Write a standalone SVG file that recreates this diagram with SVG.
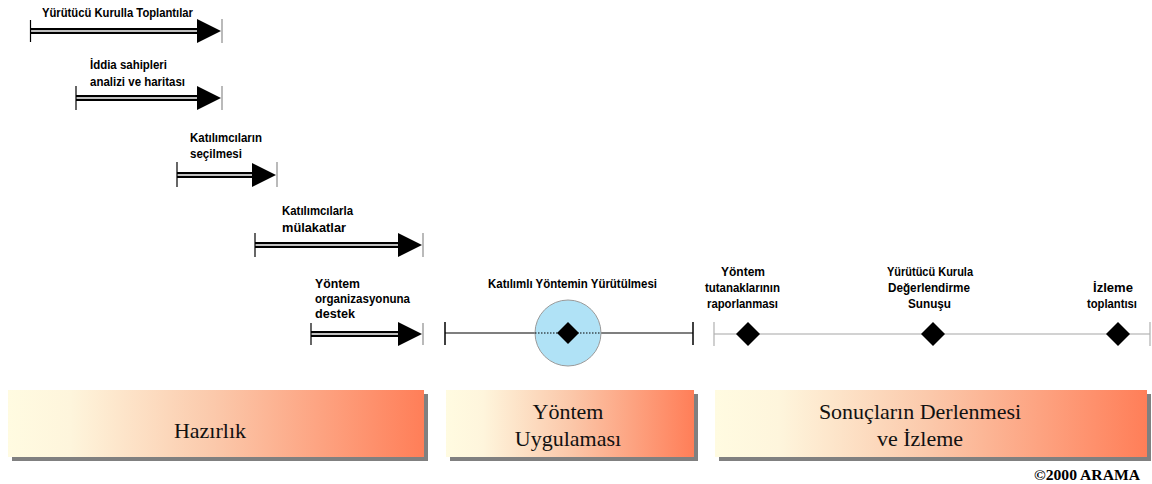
<svg xmlns="http://www.w3.org/2000/svg" width="1152" height="484" viewBox="0 0 1152 484">
<defs>
<linearGradient id="g" x1="0" y1="0" x2="1" y2="0">
<stop offset="0" stop-color="#FFFBE1"/>
<stop offset="0.15" stop-color="#FEF5DC"/>
<stop offset="0.5" stop-color="#FBC8AA"/>
<stop offset="1" stop-color="#FF7E58"/>
</linearGradient>
<style>
.lb{font-family:"Liberation Sans",Arial,sans-serif;font-weight:bold;font-size:12px;fill:#000}
.bt{font-family:"Liberation Serif","Times New Roman",serif;font-size:22px;fill:#111;text-anchor:middle}
.outer{stroke:#000;stroke-width:6;fill:none}
.inner{stroke:#fff;stroke-width:1.6;fill:none}
.tk{stroke:#000;stroke-width:1.2}
.tkg{stroke:#8c8c8c;stroke-width:1.2}
.shadow{fill:#808080}
.bar{fill:url(#g)}
</style>
</defs>

<g id="connectors">
<g id="a1">
<line class="outer" x1="30" y1="31" x2="198" y2="31"/>
<line class="inner" x1="30" y1="31" x2="198" y2="31"/>
<polygon points="197,19 197,43 221,31" fill="#000"/>
<line class="tk" x1="30.5" y1="20" x2="30.5" y2="42"/>
<line class="tkg" x1="222" y1="19" x2="222" y2="43"/>
</g>
<g id="a2">
<line class="outer" x1="76" y1="98" x2="198" y2="98"/>
<line class="inner" x1="76" y1="98" x2="198" y2="98"/>
<polygon points="197,86 197,110 221,98" fill="#000"/>
<line class="tk" x1="76" y1="86" x2="76" y2="110"/>
<line class="tkg" x1="222" y1="86" x2="222" y2="110"/>
</g>
<g id="a3">
<line class="outer" x1="177" y1="175" x2="253" y2="175"/>
<line class="inner" x1="177" y1="175" x2="253" y2="175"/>
<polygon points="252,163 252,187 276,175" fill="#000"/>
<line class="tk" x1="177" y1="162" x2="177" y2="187"/>
<line class="tkg" x1="277" y1="162" x2="277" y2="187"/>
</g>
<g id="a4">
<line class="outer" x1="255" y1="245" x2="399" y2="245"/>
<line class="inner" x1="255" y1="245" x2="399" y2="245"/>
<polygon points="398,233 398,257 422,245" fill="#000"/>
<line class="tk" x1="255" y1="233" x2="255" y2="257"/>
<line class="tkg" x1="423" y1="233" x2="423" y2="257"/>
</g>
<g id="a5">
<line class="outer" x1="311" y1="334" x2="399" y2="334"/>
<line class="inner" x1="311" y1="334" x2="399" y2="334"/>
<polygon points="398,322 398,346 422,334" fill="#000"/>
<line class="tk" x1="311" y1="323" x2="311" y2="345"/>
<line class="tkg" x1="423" y1="323" x2="423" y2="345"/>
</g>
<g id="t2">
<line x1="445" y1="333" x2="693" y2="333" stroke="#000" stroke-width="1.2"/>
<line x1="445" y1="322" x2="445" y2="345" stroke="#000" stroke-width="1.5"/>
<line x1="693" y1="322" x2="693" y2="345" stroke="#000" stroke-width="1.5"/>
</g>
<g id="t3">
<line x1="714" y1="334" x2="1150" y2="334" stroke="#a6a6a6" stroke-width="1.2"/>
<line x1="714" y1="322" x2="714" y2="346" stroke="#b0b0b0" stroke-width="1.2"/>
<line x1="1150" y1="322" x2="1150" y2="346" stroke="#b0b0b0" stroke-width="1.2"/>
</g>
</g>

<g id="n1"><text class="lb" x="42" y="17" textLength="151" lengthAdjust="spacingAndGlyphs">Yürütücü Kurulla Toplantılar</text></g>
<g id="n2">
<text class="lb" x="90" y="69" textLength="77" lengthAdjust="spacingAndGlyphs">İddia sahipleri</text>
<text class="lb" x="90" y="86" textLength="95" lengthAdjust="spacingAndGlyphs">analizi ve haritası</text>
</g>
<g id="n3">
<text class="lb" x="190" y="142" textLength="72" lengthAdjust="spacingAndGlyphs">Katılımcıların</text>
<text class="lb" x="190" y="158" textLength="52" lengthAdjust="spacingAndGlyphs">seçilmesi</text>
</g>
<g id="n4">
<text class="lb" x="282" y="215" textLength="71" lengthAdjust="spacingAndGlyphs">Katılımcılarla</text>
<text class="lb" x="282" y="232" textLength="64" lengthAdjust="spacingAndGlyphs">mülakatlar</text>
</g>
<g id="n5">
<text class="lb" x="315" y="288" textLength="45" lengthAdjust="spacingAndGlyphs">Yöntem</text>
<text class="lb" x="315" y="303" textLength="95" lengthAdjust="spacingAndGlyphs">organizasyonuna</text>
<text class="lb" x="315" y="318" textLength="40" lengthAdjust="spacingAndGlyphs">destek</text>
</g>
<g id="n6">
<text class="lb" x="488" y="288" textLength="169" lengthAdjust="spacingAndGlyphs">Katılımlı Yöntemin Yürütülmesi</text>
<circle cx="568" cy="333" r="33" fill="#B0E2F6" stroke="#9a9a9a" stroke-width="1"/>
<line x1="535" y1="333" x2="601" y2="333" stroke="#000" stroke-width="1.2" stroke-dasharray="1.5,1.5"/>
<polygon points="568,322 579,333 568,344 557,333" fill="#000"/>
</g>
<g id="n7">
<text class="lb" x="721" y="276" textLength="44" lengthAdjust="spacingAndGlyphs">Yöntem</text>
<text class="lb" x="705" y="292" textLength="75" lengthAdjust="spacingAndGlyphs">tutanaklarının</text>
<text class="lb" x="707" y="308" textLength="71" lengthAdjust="spacingAndGlyphs">raporlanması</text>
<polygon points="748,322 760,334 748,346 736,334" fill="#000"/>
</g>
<g id="n8">
<text class="lb" x="887" y="276" textLength="86" lengthAdjust="spacingAndGlyphs">Yürütücü Kurula</text>
<text class="lb" x="888" y="292" textLength="82" lengthAdjust="spacingAndGlyphs">Değerlendirme</text>
<text class="lb" x="908" y="308" textLength="43" lengthAdjust="spacingAndGlyphs">Sunuşu</text>
<polygon points="933,322 945,334 933,346 921,334" fill="#000"/>
</g>
<g id="n9">
<text class="lb" x="1093" y="292" textLength="40" lengthAdjust="spacingAndGlyphs">İzleme</text>
<text class="lb" x="1087" y="308" textLength="50" lengthAdjust="spacingAndGlyphs">toplantısı</text>
<polygon points="1118,322 1130,334 1118,346 1106,334" fill="#000"/>
</g>

<g id="b1">
<rect class="shadow" x="12" y="394" width="416" height="67"/>
<rect class="bar" x="8" y="390" width="416" height="67"/>
<text class="bt" x="210" y="438">Hazırlık</text>
</g>
<g id="b2">
<rect class="shadow" x="450" y="394" width="248" height="67"/>
<rect class="bar" x="446" y="390" width="248" height="67"/>
<text class="bt" x="568" y="419">Yöntem</text>
<text class="bt" x="568" y="446">Uygulaması</text>
</g>
<g id="b3">
<rect class="shadow" x="719" y="394" width="432" height="67"/>
<rect class="bar" x="715" y="390" width="432" height="67"/>
<text class="bt" x="920" y="419">Sonuçların Derlenmesi</text>
<text class="bt" x="920" y="446">ve İzleme</text>
</g>
<g id="copy">
<text x="1140" y="480" text-anchor="end" font-family="'Liberation Serif','Times New Roman',serif" font-weight="bold" font-size="15" textLength="106" lengthAdjust="spacingAndGlyphs" fill="#000">©2000 ARAMA</text>
</g>
</svg>
